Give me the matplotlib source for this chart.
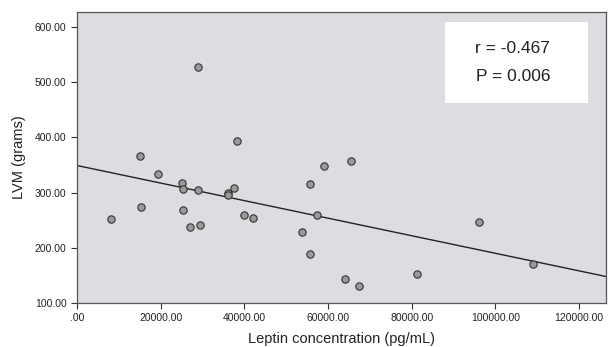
import matplotlib.pyplot as plt
import numpy as np
from matplotlib.patches import Rectangle

plt.rcParams['font.family'] = ['Liberation Sans', 'DejaVu Sans']

# Leptin (pg/mL) vs LVM (grams)
leptin = [28840, 38230, 14980, 19280, 8120, 15220, 25010, 25400, 25250,
          27080, 29320, 28840, 36160, 36160, 37590, 39980, 42060, 53700,
          55760, 55760, 57360, 63970, 67400, 81240, 96130, 109040, 59020,
          65480]
lvm = [527, 393, 367, 334, 252, 274, 317, 306, 268,
       238, 241, 304, 300, 296, 308, 260, 254, 228,
       316, 188, 260, 143, 130, 153, 247, 171, 349,
       357]

# regression line as drawn in the figure
fit_intercept = 349.0
fit_slope = -0.00159

x_ticks = [0, 20000, 40000, 60000, 80000, 100000, 120000]
y_ticks = [100, 200, 300, 400, 500, 600]

fig = plt.figure(figsize=(6.08, 3.47), dpi=100)
ax = fig.add_axes([0.1266, 0.1268, 0.87, 0.8386])
ax.set_facecolor('#dcdde0')

xmin, xmax = 0, 126400
ax.set_xlim(xmin, xmax)
ax.set_ylim(100, 627)

line_x = np.array([xmin, xmax])
ax.plot(line_x, fit_intercept + fit_slope * line_x, color='#222222', lw=1.0, zorder=2)
ax.scatter(leptin, lvm, s=28, facecolor='#9a9a9a', edgecolor='#333333',
           linewidths=0.8, zorder=3)

ax.set_xticks(x_ticks)
ax.set_xticklabels(['.00'] + [f'{v:.2f}' for v in x_ticks[1:]])
ax.set_yticks(y_ticks)
ax.set_yticklabels([f'{v:.2f}' for v in y_ticks])
ax.tick_params(labelsize=7.5, colors='#333333', length=4, width=0.8,
               labelcolor='#222222')

for side in ['left', 'bottom', 'top', 'right']:
    ax.spines[side].set_color('#555555')
    ax.spines[side].set_linewidth(0.9)

ax.set_xlabel('Leptin concentration (pg/mL)', fontsize=10.5, color='#222222', labelpad=6)
ax.set_ylabel('LVM (grams)', fontsize=10.5, color='#222222', labelpad=6)

# stats box
ax.add_patch(Rectangle((0.696, 0.687), 0.27, 0.279, transform=ax.transAxes,
                       facecolor='white', edgecolor='none', zorder=4))
ax.text(0.824, 0.873, 'r = -0.467', transform=ax.transAxes, ha='center',
        va='center', fontsize=12.5, color='#222222', zorder=5)
ax.text(0.824, 0.780, 'P = 0.006', transform=ax.transAxes, ha='center',
        va='center', fontsize=12.5, color='#222222', zorder=5)

fig.savefig('out.png', dpi=100)
